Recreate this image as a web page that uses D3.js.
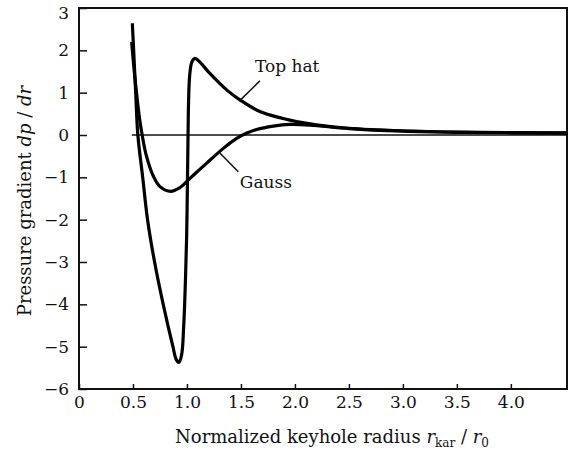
<!DOCTYPE html>
<html>
<head>
<meta charset="utf-8">
<script src="https://cdn.jsdelivr.net/npm/d3@7"></script>
<style>
  body { margin: 0; background: #fff; }
  text { font-family: "DejaVu Serif", "Liberation Serif", serif; fill: #111; }
</style>
</head>
<body>
<div class="chart"></div>
<script>
// curve points: [r, dp/dr]
var topHat = [
    [0.494, 2.64], [0.51, 1.8], [0.525, 1.0], [0.545, 0], [0.59, -1.0],
    [0.635, -2.0], [0.70, -3.0], [0.78, -4.0], [0.87, -5.0], [0.90, -5.3],
    [0.925, -5.37], [0.95, -5.2], [0.97, -4.5], [0.985, -3.5], [0.997, -2.4],
    [1.005, -1.0], [1.01, 0], [1.015, 0.8], [1.025, 1.4], [1.045, 1.72],
    [1.074, 1.81], [1.12, 1.72], [1.21, 1.46], [1.37, 1.06], [1.49, 0.83],
    [1.68, 0.55], [2.03, 0.31], [2.2, 0.24], [2.5, 0.16], [3.0, 0.1],
    [3.5, 0.07], [4.52, 0.05]
];

var gauss = [
    [0.488, 2.2], [0.51, 1.55], [0.535, 0.95], [0.56, 0.4], [0.585, 0],
    [0.62, -0.45], [0.69, -0.98], [0.75, -1.22], [0.85, -1.33], [0.93, -1.25],
    [1.03, -1.02], [1.18, -0.67], [1.34, -0.31], [1.46, -0.08], [1.55, 0.04],
    [1.645, 0.13], [1.80, 0.21], [1.95, 0.25], [2.14, 0.235], [2.5, 0.15],
    [3.0, 0.088], [3.5, 0.062], [4.52, 0.046]
];

var zeroLine = [[0.49, 0], [4.52, 0]];

var xTicks = [0, 0.5, 1.0, 1.5, 2.0, 2.5, 3.0, 3.5, 4.0];
var xTickLabels = ["0", "0.5", "1.0", "1.5", "2.0", "2.5", "3.0", "3.5", "4.0"];
var yTicks = [-6, -5, -4, -3, -2, -1, 0, 1, 2, 3];

// label text anchor and leader line, in data units
var labels = [
    { name: "Top hat", at: [1.63, 1.49], line: [[1.676, 1.28], [1.484, 0.80]] },
    { name: "Gauss", at: [1.49, -1.25], line: [[1.475, -0.87], [1.307, -0.43]] }
];

var margin = { top: 8, right: 7, bottom: 64, left: 79 },
    width = 574 - margin.left - margin.right,
    height = 453 - margin.top - margin.bottom;

var root = d3.select(".chart")
    .append("svg")
    .attr("width", 574)
    .attr("height", 453);

var svg = root.append("g")
    .attr("transform", "translate(" + margin.left + "," + margin.top + ")");

var x = d3.scaleLinear().domain([0, 4.52]).range([0, width]);
var y = d3.scaleLinear().domain([-6, 3]).range([height, 0]);

// X axis, ticks pointing into the plot
var xAxis = svg.append("g")
    .attr("transform", "translate(0," + height + ")")
    .call(d3.axisBottom(x)
        .tickValues(xTicks)
        .tickSizeInner(-5)
        .tickSizeOuter(0)
        .tickPadding(7)
        .tickFormat(function (d, i) { return xTickLabels[i]; }));
xAxis.select(".domain").remove();
xAxis.selectAll("line").attr("stroke", "#111").attr("stroke-width", 1.5);
xAxis.selectAll("text").attr("font-size", 17).attr("font-family", null);

// Y axis
var yAxis = svg.append("g")
    .call(d3.axisLeft(y)
        .tickValues(yTicks)
        .tickSizeInner(-8)
        .tickSizeOuter(0)
        .tickPadding(10)
        .tickFormat(function (d) { return d < 0 ? "\u2212" + Math.abs(d) : d; }));
yAxis.select(".domain").remove();
yAxis.selectAll("line").attr("stroke", "#111").attr("stroke-width", 1.5);
yAxis.selectAll("text").attr("font-size", 17).attr("font-family", null);
// top label sits a bit lower so it stays on the page
yAxis.selectAll(".tick").filter(function (d) { return d === 3; })
    .select("text").attr("y", 5);

// frame
svg.append("rect")
    .attr("x", 0).attr("y", 0)
    .attr("width", width).attr("height", height)
    .attr("fill", "none")
    .attr("stroke", "#111")
    .attr("stroke-width", 2);

var line = d3.line()
    .x(function (d) { return x(d[0]); })
    .y(function (d) { return y(d[1]); });

svg.append("path")
    .datum(zeroLine)
    .attr("d", line)
    .attr("fill", "none")
    .attr("stroke", "#111")
    .attr("stroke-width", 1.5);

var smooth = d3.line()
    .curve(d3.curveCatmullRom.alpha(0.5))
    .x(function (d) { return x(d[0]); })
    .y(function (d) { return y(d[1]); });

[topHat, gauss].forEach(function (s) {
    svg.append("path")
        .datum(s)
        .attr("d", smooth)
        .attr("fill", "none")
        .attr("stroke", "#000")
        .attr("stroke-width", 3.2)
        .attr("stroke-linejoin", "round");
});

// curve labels with leader lines
labels.forEach(function (l) {
    svg.append("path")
        .datum(l.line)
        .attr("d", line)
        .attr("stroke", "#111")
        .attr("stroke-width", 1.5);
    svg.append("text")
        .attr("x", x(l.at[0]))
        .attr("y", y(l.at[1]))
        .attr("font-size", 17)
        .text(l.name);
});

// axis titles
var xt = root.append("text")
    .attr("x", 332)
    .attr("y", 443)
    .attr("text-anchor", "middle")
    .attr("font-size", 18);
xt.append("tspan").text("Normalized keyhole radius ");
xt.append("tspan").attr("font-style", "italic").text("r");
xt.append("tspan").attr("font-size", 12).attr("dy", 4).text("kar");
xt.append("tspan").attr("dy", -4).text(" / ");
xt.append("tspan").attr("font-style", "italic").text("r");
xt.append("tspan").attr("font-size", 12).attr("dy", 4).text("0");

var yt = root.append("text")
    .attr("transform", "translate(31,201) rotate(-90)")
    .attr("text-anchor", "middle")
    .attr("font-size", 18);
yt.append("tspan").text("Pressure gradient ");
yt.append("tspan").attr("font-style", "italic").text("dp");
yt.append("tspan").text(" / ");
yt.append("tspan").attr("font-style", "italic").text("dr");
</script>
</body>
</html>
